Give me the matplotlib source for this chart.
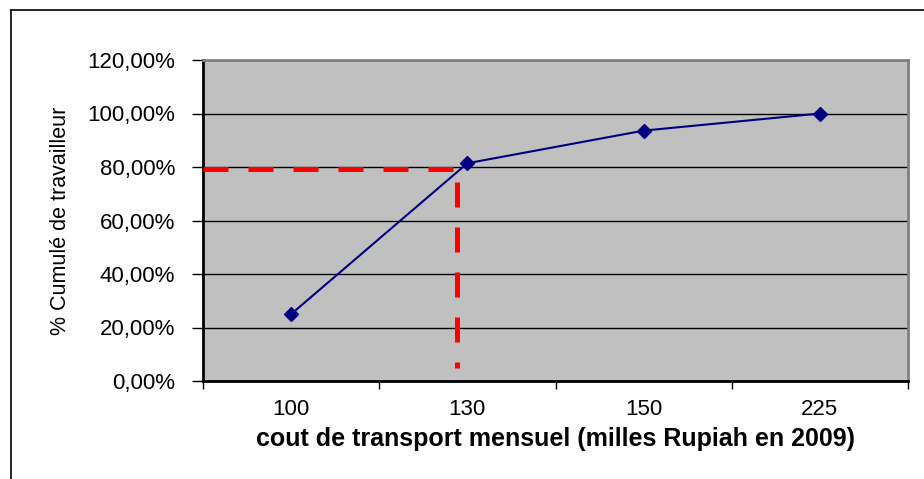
import matplotlib
matplotlib.use("Agg")
import matplotlib.pyplot as plt
from matplotlib.lines import Line2D
import numpy as np

plt.rcParams['font.family'] = ['Liberation Sans', 'DejaVu Sans']

# cumulative share of workers by monthly transport cost
categories = ['100', '130', '150', '225']
cumul = [25.0, 81.4, 93.6, 100.0]

# 80% reading lines (drawn by hand on the chart)
seuil_y = 79.3
seuil_x = 0.94

yticks = [0, 20, 40, 60, 80, 100, 120]
ytick_labels = ['0,00%', '20,00%', '40,00%', '60,00%', '80,00%', '100,00%', '120,00%']

fig = plt.figure(figsize=(9.24, 4.79), dpi=100)
ax = fig.add_axes([203/924, 1-381/479, 705/924, 321/479])
ax.set_facecolor('#c0c0c0')

x = np.arange(len(categories))
ax.plot(x, cumul, color='#000080', lw=1.5, marker='D', ms=7.5, zorder=4)

red = dict(color='#ff0000', lw=3.6, dashes=(5, 4), solid_capstyle='butt',
           dash_capstyle='butt', zorder=5)
ax.plot([-0.5, 0.92], [seuil_y, seuil_y], **red)
ax.plot([seuil_x, seuil_x], [74.5, 4.9], **red)

ax.set_xlim(-0.5, len(categories) - 0.5)
ax.set_ylim(0, 120)
ax.set_yticks(yticks)
ax.set_yticklabels(ytick_labels, fontsize=16)
ax.set_xticks(x)
ax.set_xticklabels(categories, fontsize=16)
ax.set_xticks(np.arange(len(categories) + 1) - 0.5, minor=True)
ax.tick_params(axis='x', which='major', length=0, pad=13)
ax.tick_params(axis='x', which='minor', length=6, width=1, direction='out')
ax.tick_params(axis='y', length=8, width=1, direction='out', pad=12)

ax.grid(axis='y', color='black', lw=1)
ax.set_axisbelow(True)
for s in ['left', 'bottom']:
    ax.spines[s].set_linewidth(2)
    ax.spines[s].set_color('black')
for s in ['top', 'right']:
    ax.spines[s].set_linewidth(2)
    ax.spines[s].set_color('#808080')

ax.set_xlabel('cout de transport mensuel (milles Rupiah en 2009)',
              fontsize=18, fontweight='bold', labelpad=5)
ax.set_ylabel('% Cumulé de travailleur', fontsize=15.5, labelpad=12)

# outer chart frame
W, H = 924, 479
fig.add_artist(Line2D([11/W, 11/W], [0, 1-10/H], color='black', lw=1.2,
                      transform=fig.transFigure))
fig.add_artist(Line2D([11/W, 1], [1-10/H, 1-10/H], color='black', lw=1.2,
                      transform=fig.transFigure))

fig.savefig('out.png', dpi=100)
